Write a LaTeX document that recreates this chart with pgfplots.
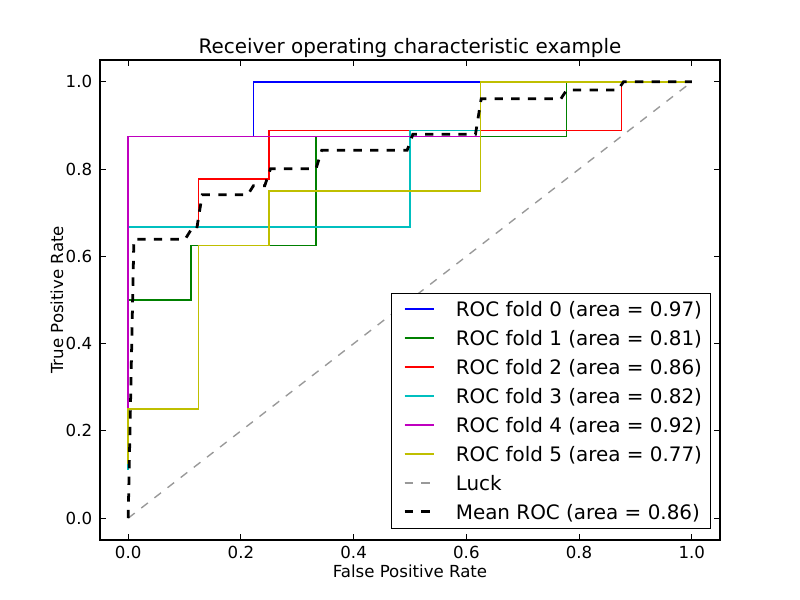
\documentclass[border=0pt]{standalone}
\usepackage{fontspec}
\setmainfont{DejaVu Sans}
\usepackage{pgfplots}
\pgfplotsset{compat=1.18}
\definecolor{foldblue}{rgb}{0,0,1}
\definecolor{foldgreen}{rgb}{0,0.5,0}
\definecolor{foldred}{rgb}{1,0,0}
\definecolor{foldcyan}{rgb}{0,0.75,0.75}
\definecolor{foldmagenta}{rgb}{0.75,0,0.75}
\definecolor{foldyellow}{rgb}{0.75,0.75,0}
\definecolor{luckgray}{rgb}{0.6,0.6,0.6}

\begin{document}
\begin{tikzpicture}
\useasboundingbox (0,0) rectangle (8in,6in);
\begin{axis}[
    at={(1in,0.6in)}, anchor=south west,
    scale only axis, width=6.2in, height=4.8in,
    xmin=-0.05, xmax=1.05, ymin=-0.05, ymax=1.05,
    xtick={0,0.2,0.4,0.6,0.8,1.0},
    ytick={0,0.2,0.4,0.6,0.8,1.0},
    tick align=inside, major tick length=4pt,
    tick style={black, line width=0.6pt},
    axis line style={line width=1pt},
    /pgf/number format/assume math mode=true,
    tick label style={font=\fontsize{12}{14}\selectfont, inner sep=0pt},
    xticklabel style={/pgf/number format/.cd, fixed, fixed zerofill, precision=1},
    yticklabel style={/pgf/number format/.cd, fixed, fixed zerofill, precision=1},
    xticklabel shift=4pt, yticklabel shift=5.5pt,
    every axis title/.style={at={(axis description cs:0.5,1)}, anchor=base, yshift=5pt,
        font=\fontsize{14.4}{17}\selectfont},
    every axis x label/.style={at={(axis description cs:0.5,-0.0771)}, anchor=base,
        font=\fontsize{12}{14}\selectfont},
    every axis y label/.style={at={(axis description cs:-0.0596,0.5)}, rotate=90, anchor=base,
        font=\fontsize{12}{14}\selectfont},
    title={Receiver operating characteristic example},
    xlabel={False Positive Rate},
    ylabel={True Positive Rate},
    no markers,
    legend style={
        at={(0.9855,0.0229)}, anchor=south east,
        draw=black, line width=1pt, fill=white,
        inner xsep=6pt, inner ysep=3.3pt,
        font=\fontsize{14.4}{17}\selectfont,
        row sep=4pt,
        nodes={inner sep=0pt, text height=13.7pt, text depth=3.2pt},
    },
    legend cell align=left,
    legend image code/.code={%
        \draw[#1] (0pt,0pt) -- (21pt,0pt);
        \draw[#1] (0pt,0.35pt) -- (21pt,0.35pt);
        \path (-2.4pt,0pt) (36pt,0pt);
    },
]
% ROC curves per fold
\addplot[draw=foldblue, line width=1.1pt] coordinates {
    (0,0.125) (0,0.875) (0.2222,0.875) (0.2222,1) (1,1)
};
\addlegendentry{ROC fold 0 (area = 0.97)}
\addplot[draw=foldgreen, line width=1.1pt] coordinates {
    (0,0.125) (0,0.5) (0.1111,0.5) (0.1111,0.625) (0.3333,0.625)
    (0.3333,0.875) (0.7778,0.875) (0.7778,1) (1,1)
};
\addlegendentry{ROC fold 1 (area = 0.81)}
\addplot[draw=foldred, line width=1.1pt] coordinates {
    (0,0.1111) (0,0.6667) (0.125,0.6667) (0.125,0.7778) (0.25,0.7778)
    (0.25,0.8889) (0.875,0.8889) (0.875,1) (1,1)
};
\addlegendentry{ROC fold 2 (area = 0.86)}
\addplot[draw=foldcyan, line width=1.1pt] coordinates {
    (0,0.1111) (0,0.6667) (0.5,0.6667) (0.5,0.8889) (0.625,0.8889)
    (0.625,1) (1,1)
};
\addlegendentry{ROC fold 3 (area = 0.82)}
\addplot[draw=foldmagenta, line width=1.1pt] coordinates {
    (0,0.125) (0,0.875) (0.625,0.875) (0.625,1) (1,1)
};
\addlegendentry{ROC fold 4 (area = 0.92)}
\addplot[draw=foldyellow, line width=1.1pt] coordinates {
    (0,0.125) (0,0.25) (0.125,0.25) (0.125,0.625) (0.25,0.625)
    (0.25,0.75) (0.625,0.75) (0.625,1) (1,1)
};
\addlegendentry{ROC fold 5 (area = 0.77)}
% chance line
\addplot[draw=luckgray, line width=1pt, dash pattern=on 6pt off 6pt] coordinates {
    (0,0) (1,1)
};
\addlegendentry{Luck}
% mean ROC
\addplot[draw=black, line width=2pt, dash pattern=on 6pt off 6pt] coordinates {
    (0,0) (0.0101,0.639) (0.1010,0.639) (0.1111,0.660) (0.1212,0.660)
    (0.1313,0.741) (0.2121,0.741) (0.2222,0.762) (0.2424,0.762)
    (0.2525,0.801) (0.3333,0.801) (0.3434,0.843) (0.4949,0.843)
    (0.5051,0.880) (0.6162,0.880) (0.6263,0.961) (0.7677,0.961)
    (0.7778,0.981) (0.8687,0.981) (0.8788,1) (1,1)
};
\addlegendentry{Mean ROC (area = 0.86)}
\end{axis}
\end{tikzpicture}
\end{document}
